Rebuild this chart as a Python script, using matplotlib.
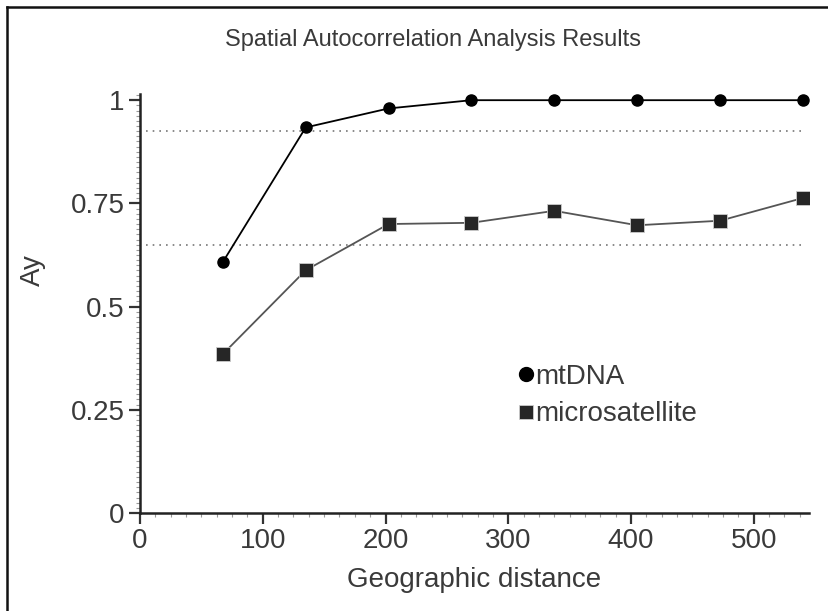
import numpy as np
import matplotlib.pyplot as plt
from matplotlib.lines import Line2D
from matplotlib.ticker import MultipleLocator

plt.rcParams['font.family'] = ['Liberation Sans', 'DejaVu Sans']

# values
dist = [67.5, 135, 202.5, 270, 337.5, 405, 472.5, 540]
mtdna = [0.608, 0.934, 0.98, 1.0, 1.0, 1.0, 1.0, 1.0]
micro = [0.385, 0.588, 0.70, 0.703, 0.732, 0.697, 0.708, 0.763]
ref_mtdna = 0.926
ref_micro = 0.65
yticks = [0, 0.25, 0.5, 0.75, 1]
ylabels = ['0', '0.25', '0.5', '0.75', '1']
xticks = [0, 100, 200, 300, 400, 500]

txt = '#3a3a3a'

fig = plt.figure(figsize=(8.29, 6.11), dpi=100)
ax = fig.add_axes([140/829, 1-513/611, (809-140)/829, (513-94)/611])

ax.plot([5, 540], [ref_mtdna, ref_mtdna], ls=(0, (1, 3)), color='#777777', lw=1.2)
ax.plot([5, 540], [ref_micro, ref_micro], ls=(0, (1, 3)), color='#777777', lw=1.2)

ax.plot(dist, micro, '-', color='#555555', lw=1.3, marker='s', ms=10.5,
        mfc='#262626', mec='#cccccc', mew=0.6, label='microsatellite', zorder=3)
ax.plot(dist, mtdna, '-', color='black', lw=1.3, marker='o', ms=8,
        mfc='black', mec='black', label='mtDNA', zorder=4)

ax.set_xlim(0, 545)
ax.set_ylim(0, 1.015)
ax.set_xticks(xticks)
ax.set_yticks(yticks)
ax.set_yticklabels(ylabels)
ax.xaxis.set_minor_locator(MultipleLocator(12.5))
ax.yaxis.set_minor_locator(MultipleLocator(0.0125))

for s in ['top', 'right']:
    ax.spines[s].set_visible(False)
for s in ['left', 'bottom']:
    ax.spines[s].set_linewidth(1.8)
    ax.spines[s].set_color('#222222')

ax.tick_params(which='major', length=8, width=1.6, color='#333333',
               labelsize=20, labelcolor=txt, pad=3)
ax.tick_params(which='minor', length=3, width=0.8, color='#999999')

ax.set_xlabel('Geographic distance', fontsize=20, color=txt, labelpad=9)
ax.set_ylabel('Ay', fontsize=20, color=txt)
ax.yaxis.set_label_coords(-0.14, 0.58)
fig.text(433/829, 1-40/611, 'Spatial Autocorrelation Analysis Results',
         ha='center', va='center', fontsize=17, color=txt)

h, l = ax.get_legend_handles_labels()
leg = ax.legend([h[1], h[0]], [l[1], l[0]], loc='upper left',
                bbox_to_anchor=(0.532, 0.415), frameon=False, fontsize=20,
                handlelength=0.4, handletextpad=0.1, labelspacing=0.4,
                labelcolor=txt)
for lh in leg.legend_handles:
    lh.set_linestyle('none')
    lh.set_markersize(10)

# outer frame: only its left and top edges show in the crop
fig.add_artist(Line2D([7/829, 7/829], [0, 1-7/611], transform=fig.transFigure,
                      color='#111111', lw=1.8))
fig.add_artist(Line2D([7/829, 1], [1-7/611, 1-7/611], transform=fig.transFigure,
                      color='#111111', lw=1.8))

fig.savefig('out.png', dpi=100)
